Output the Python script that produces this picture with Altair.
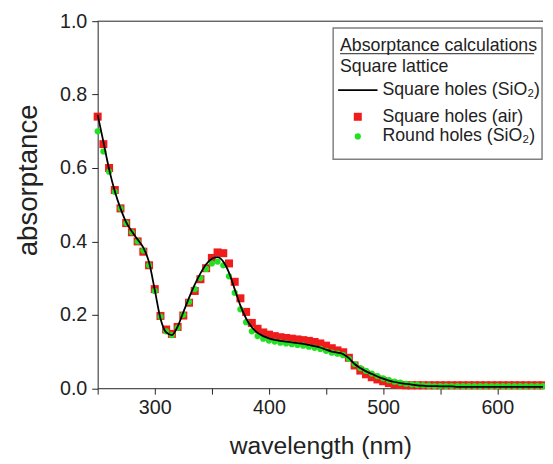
import altair as alt
import pandas as pd

# ---------------- data ----------------
wavelength = [250, 255, 260, 265, 270, 275, 280, 285, 290, 295,
              300, 305, 310, 315, 320, 325, 330, 335, 340, 345,
              350, 355, 360, 365, 370, 375, 380, 385, 390, 395,
              400, 405, 410, 415, 420, 425, 430, 435, 440, 445,
              450, 455, 460, 465, 470, 475, 480, 485, 490, 495,
              500, 505, 510, 515, 520, 525, 530, 535, 540, 545,
              550, 555, 560, 565, 570, 575, 580, 585, 590, 595,
              600, 605, 610, 615, 620, 625, 630, 635, 640]

square_holes_sio2 = [0.745, 0.672, 0.597, 0.537, 0.490, 0.452, 0.427, 0.405, 0.383, 0.343,
                     0.268, 0.190, 0.152, 0.145, 0.168, 0.207, 0.246, 0.282, 0.313, 0.338,
                     0.353, 0.357, 0.345, 0.315, 0.270, 0.225, 0.190, 0.166, 0.151, 0.142,
                     0.136, 0.132, 0.129, 0.127, 0.125, 0.123, 0.121, 0.118, 0.115, 0.111,
                     0.105, 0.100, 0.097, 0.093, 0.082, 0.066, 0.055, 0.046, 0.039, 0.032,
                     0.026, 0.021, 0.017, 0.014, 0.012, 0.010, 0.008, 0.007, 0.006, 0.006,
                     0.005, 0.005, 0.005, 0.004, 0.004, 0.004, 0.004, 0.004, 0.004, 0.004,
                     0.004, 0.004, 0.004, 0.004, 0.004, 0.004, 0.004, 0.004, 0.004]

square_holes_air = [0.740, 0.665, 0.600, 0.540, 0.490, 0.450, 0.425, 0.400, 0.372, 0.335,
                    0.270, 0.197, 0.160, 0.148, 0.167, 0.198, 0.233, 0.265, 0.297, 0.327,
                    0.355, 0.370, 0.368, 0.340, 0.290, 0.245, 0.208, 0.178, 0.162, 0.152,
                    0.146, 0.142, 0.139, 0.137, 0.135, 0.133, 0.131, 0.129, 0.126, 0.122,
                    0.116, 0.109, 0.103, 0.098, 0.083, 0.062, 0.048, 0.038, 0.030, 0.024,
                    0.019, 0.014, 0.011, 0.009, 0.008, 0.008, 0.008, 0.008, 0.008, 0.008,
                    0.008, 0.008, 0.008, 0.008, 0.008, 0.008, 0.008, 0.008, 0.008, 0.008,
                    0.008, 0.008, 0.008, 0.008, 0.008, 0.008, 0.008, 0.008, 0.008]

round_holes_sio2 = [0.700, 0.645, 0.590, 0.535, 0.490, 0.450, 0.425, 0.400, 0.375, 0.335,
                    0.265, 0.195, 0.155, 0.145, 0.165, 0.200, 0.235, 0.270, 0.300, 0.325,
                    0.340, 0.345, 0.335, 0.305, 0.260, 0.215, 0.180, 0.155, 0.142, 0.135,
                    0.130, 0.127, 0.124, 0.122, 0.120, 0.118, 0.116, 0.113, 0.110, 0.107,
                    0.102, 0.097, 0.094, 0.090, 0.080, 0.066, 0.055, 0.047, 0.040, 0.033,
                    0.027, 0.022, 0.018, 0.015, 0.012, 0.010, 0.009, 0.008, 0.007, 0.006,
                    0.006, 0.006, 0.006, 0.006, 0.006, 0.006, 0.006, 0.006, 0.006, 0.006,
                    0.006, 0.006, 0.006, 0.006, 0.006, 0.006, 0.006, 0.006, 0.006]

x_ticks = [250, 300, 350, 400, 450, 500, 550, 600]
y_ticks = [0.0, 0.1, 0.2, 0.3, 0.4, 0.5, 0.6, 0.7, 0.8, 0.9, 1.0]

legend_title = "Absorptance calculations"
legend_subtitle = "Square lattice"
label_line = "Square holes (SiO\u2082)"
label_air = "Square holes (air)"
label_round = "Round holes (SiO\u2082)"

# ---------------- chart ----------------
FONT = "Liberation Sans"
INK = "#222222"
RED = "#f01c1c"
GREEN = "#22e022"
SQ = 66
CI = 40

df = pd.DataFrame({
    "wavelength": wavelength,
    "sq_sio2": square_holes_sio2,
    "sq_air": square_holes_air,
    "rd_sio2": round_holes_sio2,
})

xscale = alt.Scale(domain=[250, 640], nice=False, zero=False)
yscale = alt.Scale(domain=[0, 1], nice=False, zero=False)

xaxis = alt.Axis(
    values=x_ticks,
    labelExpr="datum.value % 100 == 0 ? datum.label : ''",
    format="d", tickSize=6, labelPadding=4, labelFontSize=20,
    titleFontSize=25, titleY=66, titleBaseline="alphabetic", labelFlush=False,
)
yaxis = alt.Axis(
    values=y_ticks,
    labelExpr="round(datum.value * 10) % 2 == 0 ? format(datum.value, '.1f') : ''",
    tickSize=6, labelPadding=5, labelFontSize=20,
    titleFontSize=28, titleX=-62, titleY=161, titleBaseline="alphabetic",
    titleAlign="center", labelFlush=False,
)

base = alt.Chart(df)

top_rule = alt.Chart(pd.DataFrame({"v": [1.0]})).mark_rule(
    color=INK, strokeWidth=1
).encode(y=alt.Y("v:Q", scale=yscale))

red = base.mark_square(size=SQ, color=RED, opacity=1, filled=True).encode(
    x=alt.X("wavelength:Q", scale=xscale, axis=xaxis, title="wavelength (nm)"),
    y=alt.Y("sq_air:Q", scale=yscale, axis=yaxis, title="absorptance"),
)
green = base.mark_circle(size=CI, color=GREEN, opacity=1).encode(
    x="wavelength:Q", y="rd_sio2:Q"
)
line = base.mark_line(color="black", strokeWidth=1.8, interpolate="monotone").encode(
    x="wavelength:Q", y="sq_sio2:Q"
)

one = pd.DataFrame({"a": [0]})
box = alt.Chart(one).mark_rect(fill="white", stroke="#808080", strokeWidth=1.5).encode(
    x=alt.value(239), x2=alt.value(451), y=alt.value(7), y2=alt.value(140)
)

def txt(s, px, py):
    return alt.Chart(one).mark_text(
        text=s, align="left", baseline="middle", fontSize=18, font=FONT, color=INK
    ).encode(x=alt.value(px), y=alt.value(py))

t1 = txt(legend_title, 246, 25)
underline = alt.Chart(one).mark_rule(color=INK, strokeWidth=1).encode(
    x=alt.value(246), x2=alt.value(443), y=alt.value(33)
)
t2 = txt(legend_subtitle, 246, 47)
t3 = txt(label_line, 289, 70)
t4 = txt(label_air, 289, 97)
t5 = txt(label_round, 289, 117)
sample_line = alt.Chart(one).mark_rule(color="black", strokeWidth=1.8).encode(
    x=alt.value(244), x2=alt.value(284), y=alt.value(70)
)
sample_sq = alt.Chart(one).mark_square(size=SQ, color=RED, opacity=1, filled=True).encode(
    x=alt.value(264), y=alt.value(97)
)
sample_ci = alt.Chart(one).mark_circle(size=CI, color=GREEN, opacity=1).encode(
    x=alt.value(264), y=alt.value(117)
)

chart = alt.layer(
    top_rule, red, green, line,
    box, t1, underline, t2, t3, t4, t5, sample_line, sample_sq, sample_ci,
).properties(
    width=452, height=372.5,
    padding={"left": 91, "top": 10, "right": 2, "bottom": 73.5},
    autosize=alt.AutoSizeParams(type="none"),
).configure_view(stroke=None).configure_axis(
    grid=False, domainColor=INK, tickColor=INK, labelColor=INK, titleColor=INK,
    labelFont=FONT, titleFont=FONT, titleFontWeight="normal", domainWidth=1, tickWidth=1,
)

chart.save("out.html", embed_options={"renderer": "svg", "actions": False})
